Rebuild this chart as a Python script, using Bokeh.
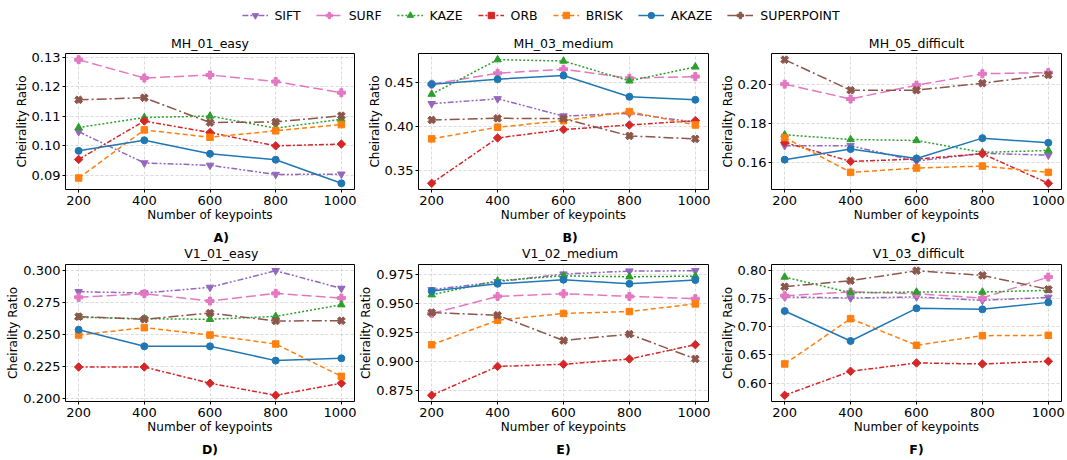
import math
from bokeh.plotting import figure
from bokeh.layouts import column, row
from bokeh.models import Range1d, FixedTicker, Label, Title, Legend, LegendItem
from bokeh.embed import file_html
from bokeh.resources import INLINE

keypoints = [200, 400, 600, 800, 1000]
methods = ["SIFT", "SURF", "KAZE", "ORB", "BRISK", "AKAZE", "SUPERPOINT"]

mh_01_easy = {
    "SIFT":       [0.1048, 0.0942, 0.0934, 0.0903, 0.0904],
    "SURF":       [0.1292, 0.1230, 0.1240, 0.1218, 0.1180],
    "KAZE":       [0.1062, 0.1096, 0.1101, 0.1060, 0.1090],
    "ORB":        [0.0954, 0.1084, 0.1045, 0.1000, 0.1006],
    "BRISK":      [0.0891, 0.1054, 0.1029, 0.1051, 0.1072],
    "AKAZE":      [0.0983, 0.1019, 0.0973, 0.0953, 0.0873],
    "SUPERPOINT": [0.1156, 0.1163, 0.1079, 0.1081, 0.1102],
}
mh_03_medium = {
    "SIFT":       [0.4258, 0.4314, 0.4117, 0.4148, 0.4045],
    "SURF":       [0.4481, 0.4606, 0.4652, 0.4549, 0.4568],
    "KAZE":       [0.4367, 0.4761, 0.4746, 0.4519, 0.4678],
    "ORB":        [0.3348, 0.3867, 0.3962, 0.4015, 0.4064],
    "BRISK":      [0.3856, 0.3989, 0.4064, 0.4167, 0.4015],
    "AKAZE":      [0.4481, 0.4538, 0.4580, 0.4337, 0.4303],
    "SUPERPOINT": [0.4072, 0.4091, 0.4087, 0.3890, 0.3856],
}
mh_05_difficult = {
    "SIFT":       [0.1685, 0.1685, 0.1607, 0.1646, 0.1637],
    "SURF":       [0.2000, 0.1924, 0.1995, 0.2053, 0.2059],
    "KAZE":       [0.1741, 0.1717, 0.1712, 0.1651, 0.1661],
    "ORB":        [0.1702, 0.1605, 0.1617, 0.1644, 0.1493],
    "BRISK":      [0.1727, 0.1549, 0.1571, 0.1581, 0.1549],
    "AKAZE":      [0.1614, 0.1668, 0.1620, 0.1724, 0.1700],
    "SUPERPOINT": [0.2125, 0.1969, 0.1969, 0.2005, 0.2047],
}
v1_01_easy = {
    "SIFT":       [0.2836, 0.2826, 0.2870, 0.3000, 0.2862],
    "SURF":       [0.2792, 0.2820, 0.2763, 0.2823, 0.2786],
    "KAZE":       [0.2636, 0.2625, 0.2620, 0.2643, 0.2734],
    "ORB":        [0.2247, 0.2247, 0.2120, 0.2026, 0.2120],
    "BRISK":      [0.2497, 0.2555, 0.2497, 0.2427, 0.2174],
    "AKAZE":      [0.2539, 0.2409, 0.2409, 0.2297, 0.2315],
    "SUPERPOINT": [0.2641, 0.2620, 0.2669, 0.2607, 0.2609],
}
v1_02_medium = {
    "SIFT":       [0.9620, 0.9690, 0.9756, 0.9782, 0.9785],
    "SURF":       [0.9414, 0.9563, 0.9586, 0.9563, 0.9543],
    "KAZE":       [0.9577, 0.9698, 0.9741, 0.9733, 0.9738],
    "ORB":        [0.8707, 0.8957, 0.8975, 0.9021, 0.9145],
    "BRISK":      [0.9144, 0.9357, 0.9415, 0.9432, 0.9498],
    "AKAZE":      [0.9609, 0.9672, 0.9707, 0.9672, 0.9704],
    "SUPERPOINT": [0.9423, 0.9400, 0.9181, 0.9236, 0.9022],
}
v1_03_difficult = {
    "SIFT":       [0.7524, 0.7506, 0.7524, 0.7465, 0.7518],
    "SURF":       [0.7547, 0.7612, 0.7582, 0.7506, 0.7876],
    "KAZE":       [0.7876, 0.7600, 0.7612, 0.7612, 0.7641],
    "ORB":        [0.5788, 0.6212, 0.6359, 0.6341, 0.6388],
    "BRISK":      [0.6341, 0.7141, 0.6671, 0.6841, 0.6847],
    "AKAZE":      [0.7276, 0.6747, 0.7324, 0.7306, 0.7429],
    "SUPERPOINT": [0.7706, 0.7812, 0.7988, 0.7906, 0.7659],
}

x_ticks = [200, 400, 600, 800, 1000]
yticks_a = [0.09, 0.10, 0.11, 0.12, 0.13]
ylabels_a = ["0.09", "0.10", "0.11", "0.12", "0.13"]
yticks_b = [0.35, 0.40, 0.45]
ylabels_b = ["0.35", "0.40", "0.45"]
yticks_c = [0.16, 0.18, 0.20]
ylabels_c = ["0.16", "0.18", "0.20"]
yticks_d = [0.200, 0.225, 0.250, 0.275, 0.300]
ylabels_d = ["0.200", "0.225", "0.250", "0.275", "0.300"]
yticks_e = [0.875, 0.900, 0.925, 0.950, 0.975]
ylabels_e = ["0.875", "0.900", "0.925", "0.950", "0.975"]
yticks_f = [0.60, 0.65, 0.70, 0.75, 0.80]
ylabels_f = ["0.60", "0.65", "0.70", "0.75", "0.80"]

FONT = "DejaVu Sans"

# color, dash, marker, angle, size
STY = {
    "SIFT":       ("#9467bd", "6 2 2 2 2 2", "inverted_triangle", 0.0, 7.5),
    "SURF":       ("#e377c2", "10 4", "plus", 0.0, 8),
    "KAZE":       ("#2ca02c", "2 2", "triangle", 0.0, 7.5),
    "ORB":        ("#d62728", "5 2 2 2", "square", math.pi / 4, 6),
    "BRISK":      ("#ff7f0e", "5 3", "square", 0.0, 6.5),
    "AKAZE":      ("#1f77b4", "solid", "circle", 0.0, 7),
    "SUPERPOINT": ("#8c564b", "10 3 2 3", "plus", math.pi / 4, 8),
}

# column geometry: (figure width, left border, right border)
COLS = [(356, 65, 2), (354, 62, 2), (357, 61, 6)]


def panel(data, yt, yl, col, height, top, bottom, title=None, letter=None):
    width, left, right = COLS[col]
    vals = [v for m in methods for v in data[m]]
    lo, hi = min(vals), max(vals)
    pad = 0.05 * (hi - lo)
    p = figure(width=width, height=height, output_backend="svg", toolbar_location=None,
               x_range=Range1d(160, 1040), y_range=Range1d(lo - pad, hi + pad),
               min_border_left=left, min_border_right=right,
               min_border_top=top, min_border_bottom=bottom)
    if title:
        p.title.text = title
        p.title.align = "center"
        p.title.text_font = FONT
        p.title.text_font_size = "12.5px"
        p.title.text_font_style = "normal"
        p.title.text_color = "#000000"
        p.title.standoff = 6
    p.outline_line_color = "#000000"
    p.outline_line_width = 1
    p.outline_line_alpha = 1
    for ax in (p.xaxis, p.yaxis):
        ax.axis_line_color = None
        ax.major_tick_out = 3
        ax.major_tick_in = 0
        ax.major_tick_line_color = "#000000"
        ax.minor_tick_line_color = None
        ax.major_label_text_font = FONT
        ax.major_label_text_font_size = "13px"
        ax.major_label_text_color = "#000000"
        ax.axis_label_text_font = FONT
        ax.axis_label_text_font_size = "12px"
        ax.axis_label_text_font_style = "normal"
        ax.axis_label_text_color = "#000000"
    p.xaxis.major_label_standoff = 3
    p.xaxis.axis_label_standoff = 0
    p.yaxis.major_label_standoff = 2
    p.yaxis.axis_label_standoff = 0
    p.xaxis.ticker = FixedTicker(ticks=x_ticks)
    p.yaxis.ticker = FixedTicker(ticks=yt)
    p.yaxis.major_label_overrides = {t: s for t, s in zip(yt, yl)}
    p.xaxis.axis_label = "Number of keypoints"
    p.yaxis.axis_label = "Cheirality Ratio"
    for g in (p.xgrid, p.ygrid):
        g.grid_line_color = "#b0b0b0"
        g.grid_line_alpha = 0.6
        g.grid_line_dash = "3 2"
        g.grid_line_width = 0.8
    for m in methods:
        c, d, mk, ang, sz = STY[m]
        p.line(keypoints, data[m], line_color=c, line_width=1.5, line_dash=d)
        p.scatter(keypoints, data[m], marker=mk, angle=ang, size=sz,
                  fill_color=c, line_color=c)
    if letter:
        p.add_layout(Title(text=letter, align="center", text_font=FONT, text_font_size="12.5px",
                           text_font_style="bold", text_color="#000000", standoff=7), "below")
    return p


# row 1: title on top, axis below; row 2: axis + letter below
pa = panel(mh_01_easy, yticks_a, ylabels_a, 0, 195, 23, 36, title="MH_01_easy")
pb = panel(mh_03_medium, yticks_b, ylabels_b, 1, 195, 23, 36, title="MH_03_medium")
pc = panel(mh_05_difficult, yticks_c, ylabels_c, 2, 195, 23, 36, title="MH_05_difficult")
pd_ = panel(v1_01_easy, yticks_d, ylabels_d, 0, 198, 2, 59, letter="D)")
pe = panel(v1_02_medium, yticks_e, ylabels_e, 1, 198, 2, 59, letter="E)")
pf = panel(v1_03_difficult, yticks_f, ylabels_f, 2, 198, 2, 59, letter="F)")

# strip between the rows: letters of row 1 and titles of row 2, centred on each frame
STRIP_H = 37
strip = figure(width=1067, height=STRIP_H, output_backend="svg", toolbar_location=None,
               x_range=Range1d(0, 1067), y_range=Range1d(STRIP_H, 0),
               min_border=0, min_border_left=0, min_border_right=0,
               min_border_top=0, min_border_bottom=0)
strip.axis.visible = False
strip.grid.visible = False
strip.outline_line_color = None
letters_top = ["A)", "B)", "C)"]
titles_bottom = ["V1_01_easy", "V1_02_medium", "V1_03_difficult"]
x0 = 0
for (w, l, r), let, tt in zip(COLS, letters_top, titles_bottom):
    cx = x0 + l + (w - l - r) / 2
    strip.add_layout(Label(x=cx, y=11.5, text=let, text_align="center", text_baseline="middle",
                           text_font=FONT, text_font_size="12.5px", text_font_style="bold",
                           text_color="#000000"))
    strip.add_layout(Label(x=cx, y=28, text=tt, text_align="center", text_baseline="middle",
                           text_font=FONT, text_font_size="12.5px", text_color="#000000"))
    x0 += w

# legend strip: renderers hold real data but sit outside this strip's visible range
leg = figure(width=1067, height=30, output_backend="svg", toolbar_location=None,
             x_range=Range1d(0, 1), y_range=Range1d(0, 1),
             min_border_left=14, min_border_right=0, min_border_top=0, min_border_bottom=0)
leg.axis.visible = False
leg.grid.visible = False
leg.outline_line_color = None
items = []
for m in methods:
    c, d, mk, ang, sz = STY[m]
    r1 = leg.line(keypoints, mh_01_easy[m], line_color=c, line_width=1.5, line_dash=d)
    r2 = leg.scatter(keypoints, mh_01_easy[m], marker=mk, angle=ang, size=sz,
                     fill_color=c, line_color=c)
    items.append(LegendItem(label=m, renderers=[r1, r2]))
legend = Legend(items=items, orientation="horizontal", location="center",
                glyph_width=26, glyph_height=16, label_standoff=7, spacing=15,
                label_text_font=FONT, label_text_font_size="12.5px", label_text_color="#000000",
                border_line_color=None, background_fill_alpha=0, padding=0, margin=0)
leg.add_layout(legend, "center")

layout = column(leg, row(pa, pb, pc), strip, row(pd_, pe, pf))
open("out.html", "w").write(file_html(layout, INLINE))
